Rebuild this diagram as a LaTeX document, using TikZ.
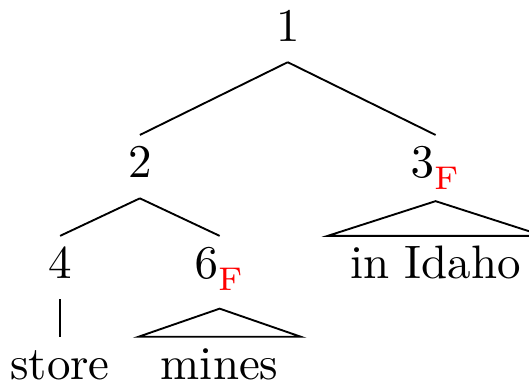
\documentclass[tikz,border=0pt]{standalone}
\usepackage{xcolor}
\usepackage{tikz}
\usepackage{amsmath}

\newcommand{\fmark}{_{\raisebox{-1.2pt}{$\scriptstyle\textcolor{red}{\mathrm{F}}$}}}

\begin{document}
\begin{tikzpicture}[
    tree node/.style = {
        text height=6.5pt,
        text depth=2pt,
        inner ysep=2.3pt,
        inner xsep=4.6pt
    },
    every node/.style = {tree node},
    roof/.style = {
        edge from parent path={([yshift=-#1]\tikzparentnode.south) -- (\tikzchildnode.north west)
            -- (\tikzchildnode.north east) -- cycle}
    },
    roof/.default = 0pt,
    parent anchor=south, child anchor=north,
    level 1/.style = {sibling distance=63pt, level distance=29pt},
    level 2/.style = {sibling distance=34pt, level distance=21.5pt},
    level 3/.style = {level distance=21.5pt}
]
\useasboundingbox (0,0) rectangle (112.7pt,-81.4pt);

\node (root) at (61.3pt,-6.5pt) {1}
    child {node (n2) {2}
        child {node (n4) {4}
            child {node (store) {store}}}
        child {node (n6) {$6\fmark$}
            child[roof=2pt] {node (mines) {mines}}}}
    child {node (n3) {$3\fmark$}
        child[roof=0.6pt] {node (idaho) {in Idaho}}};

\end{tikzpicture}
\end{document}
